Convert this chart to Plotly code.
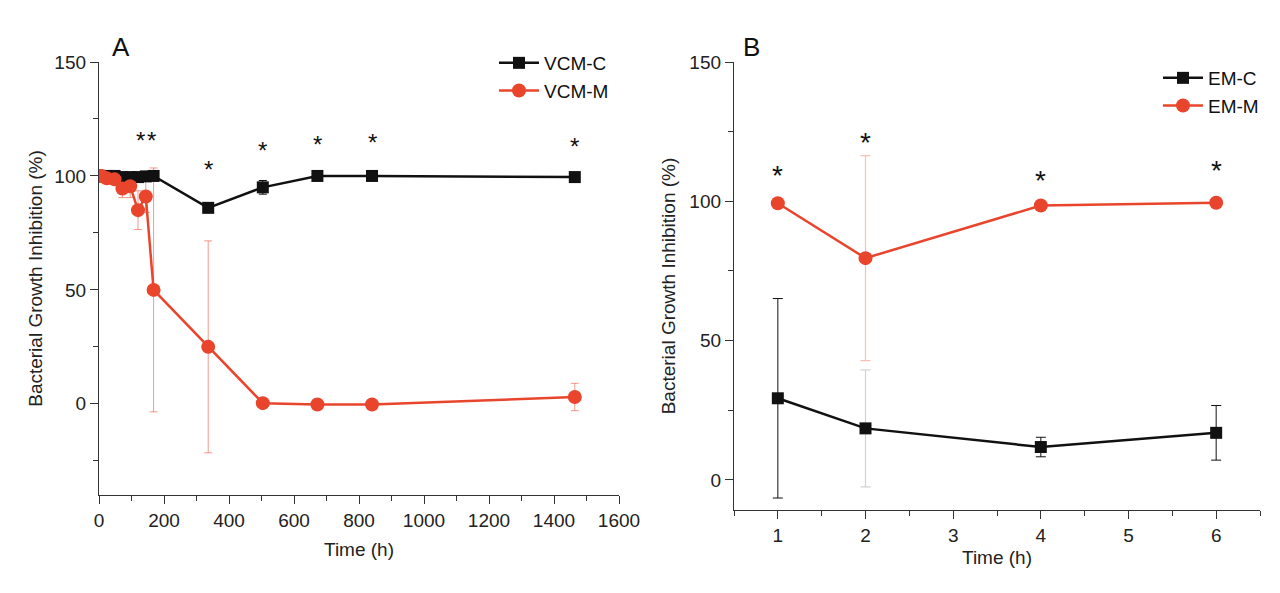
import plotly.graph_objects as go

# ---------------- Panel A data ----------------
a_time = [0, 8, 24, 48, 72, 96, 120, 144, 168, 336, 504, 672, 840, 1464]
vcm_c = [100, 100, 100, 100, 99.5, 99.5, 99.5, 99.8, 100, 86, 95, 100, 100, 99.5]
vcm_c_err = [0.5, 0.5, 0.5, 0.5, 0.5, 0.5, 0.5, 0.5, 0.5, 2, 3, 1, 1, 1]
vcm_m = [100, 100, 99, 98.5, 94.5, 95.5, 85, 91, 50, 25, 0.3, -0.3, -0.3, 3]
vcm_m_err = [0.5, 1, 1, 1.5, 4, 5, 8.5, 7, 53.5, 46.5, 1, 0.5, 0.5, 6]
a_star_x = [129, 163, 336, 504, 672, 840, 1464]
a_star_y = [115.5, 115.5, 103, 111, 114, 114.5, 113]

# ---------------- Panel B data ----------------
b_time = [1, 2, 4, 6]
em_c = [29.3, 18.5, 11.8, 16.9]
em_c_err = [35.8, 21, 3.5, 9.8]
em_m = [99.3, 79.6, 98.5, 99.5]
em_m_err = [0.5, 36.8, 0.5, 0.5]
b_star_x = [1, 2, 4, 6]
b_star_y = [109.3, 121.2, 107.5, 111]

RED = "#E8452C"
BLACK = "#111111"
FONT = "Liberation Sans, Arial, sans-serif"

fig = go.Figure()

# ---- Panel A error bars ----
fig.add_trace(go.Scatter(x=a_time, y=vcm_m, mode="markers", marker=dict(opacity=0),
                         error_y=dict(type="data", array=vcm_m_err, color="rgba(232,69,44,0.55)",
                                      thickness=1, width=4),
                         showlegend=False, hoverinfo="skip", xaxis="x", yaxis="y"))
fig.add_trace(go.Scatter(x=a_time, y=vcm_c, mode="markers", marker=dict(opacity=0),
                         error_y=dict(type="data", array=vcm_c_err, color=BLACK, thickness=1, width=4),
                         showlegend=False, hoverinfo="skip", xaxis="x", yaxis="y"))
# ---- Panel A lines ----
fig.add_trace(go.Scatter(x=a_time, y=vcm_c, mode="lines+markers", name="VCM-C",
                         line=dict(color=BLACK, width=2.5),
                         marker=dict(symbol="square", size=12, color=BLACK),
                         xaxis="x", yaxis="y", legend="legend"))
fig.add_trace(go.Scatter(x=a_time, y=vcm_m, mode="lines+markers", name="VCM-M",
                         line=dict(color=RED, width=2.5),
                         marker=dict(symbol="circle", size=14, color=RED),
                         xaxis="x", yaxis="y", legend="legend"))

# ---- Panel B error bars ----
fig.add_trace(go.Scatter(x=[b_time[1]], y=[em_m[1]], mode="markers", marker=dict(opacity=0),
                         error_y=dict(type="data", array=[em_m_err[1]], color="rgba(232,69,44,0.35)",
                                      thickness=1.2, width=5),
                         showlegend=False, hoverinfo="skip", xaxis="x2", yaxis="y2"))
fig.add_trace(go.Scatter(x=[b_time[1]], y=[em_c[1]], mode="markers", marker=dict(opacity=0),
                         error_y=dict(type="data", array=[em_c_err[1]], color="rgba(0,0,0,0.18)",
                                      thickness=1.2, width=5),
                         showlegend=False, hoverinfo="skip", xaxis="x2", yaxis="y2"))
fig.add_trace(go.Scatter(x=[b_time[i] for i in (0, 2, 3)], y=[em_c[i] for i in (0, 2, 3)],
                         mode="markers", marker=dict(opacity=0),
                         error_y=dict(type="data", array=[em_c_err[i] for i in (0, 2, 3)], color=BLACK,
                                      thickness=1, width=5),
                         showlegend=False, hoverinfo="skip", xaxis="x2", yaxis="y2"))
# ---- Panel B lines ----
fig.add_trace(go.Scatter(x=b_time, y=em_c, mode="lines+markers", name="EM-C",
                         line=dict(color=BLACK, width=2.5),
                         marker=dict(symbol="square", size=12, color=BLACK),
                         xaxis="x2", yaxis="y2", legend="legend2"))
fig.add_trace(go.Scatter(x=b_time, y=em_m, mode="lines+markers", name="EM-M",
                         line=dict(color=RED, width=2.5),
                         marker=dict(symbol="circle", size=14, color=RED),
                         xaxis="x2", yaxis="y2", legend="legend2"))

annotations = []
for sx, sy in zip(a_star_x, a_star_y):
    annotations.append(dict(x=sx, y=sy, xref="x", yref="y", text="*", showarrow=False,
                            font=dict(size=24, color=BLACK, family=FONT)))
for sx, sy in zip(b_star_x, b_star_y):
    annotations.append(dict(x=sx, y=sy, xref="x2", yref="y2", text="*", showarrow=False,
                            font=dict(size=28, color=BLACK, family=FONT)))
annotations.append(dict(x=121 / 1280, y=1 - 47 / 593, xref="paper", yref="paper", text="A",
                        showarrow=False, xanchor="center", yanchor="middle",
                        font=dict(size=26, color=BLACK, family=FONT)))
annotations.append(dict(x=751 / 1280, y=1 - 47 / 593, xref="paper", yref="paper", text="B",
                        showarrow=False, xanchor="center", yanchor="middle",
                        font=dict(size=26, color=BLACK, family=FONT)))

axis_common = dict(showline=True, linecolor="#333333", linewidth=1.3, ticks="outside",
                   ticklen=8, tickwidth=1.3, tickcolor="#333333", showgrid=False, zeroline=False,
                   mirror=False, automargin=False, tickfont=dict(size=19, color="#222222", family=FONT),
                   title_font=dict(size=19, color="#222222", family=FONT))
minor_common = dict(ticks="outside", ticklen=5, tickwidth=1.3, tickcolor="#333333")

fig.update_layout(
    width=1280, height=593,
    margin=dict(l=0, r=0, t=0, b=0),
    paper_bgcolor="white", plot_bgcolor="white",
    font=dict(family=FONT, size=19, color="#222222"),
    xaxis=dict(axis_common, domain=[99 / 1280, 619 / 1280], range=[0, 1600], dtick=200, tick0=0,
               minor=dict(minor_common, dtick=100),
               title=dict(text="Time (h)", standoff=12), anchor="y"),
    yaxis=dict(axis_common, domain=[1 - 495 / 593, 1 - 62 / 593], range=[-40, 150],
               tickvals=[0, 50, 100, 150],
               minor=dict(minor_common, tick0=0, dtick=25),
               title=dict(text="Bacterial Growth Inhibition (%)", standoff=6), anchor="x"),
    xaxis2=dict(axis_common, domain=[734 / 1280, 1260 / 1280], range=[0.5, 6.5], tickvals=[1, 2, 3, 4, 5, 6],
                minor=dict(minor_common, tick0=0.5, dtick=0.5),
                title=dict(text="Time (h)", standoff=5), anchor="y2"),
    yaxis2=dict(axis_common, domain=[1 - 510 / 593, 1 - 62 / 593], range=[-10.8, 150],
                tickvals=[0, 50, 100, 150],
                minor=dict(minor_common, tick0=0, dtick=25),
                title=dict(text="Bacterial Growth Inhibition (%)", standoff=8), anchor="x2"),
    legend=dict(x=494 / 1280, y=1 - 44 / 593, xanchor="left", yanchor="top", bgcolor="rgba(0,0,0,0)",
                font=dict(size=19, family=FONT, color="#111111"), tracegroupgap=0, itemwidth=40),
    legend2=dict(x=1158 / 1280, y=1 - 59 / 593, xanchor="left", yanchor="top", bgcolor="rgba(0,0,0,0)",
                 font=dict(size=19, family=FONT, color="#111111"), tracegroupgap=0, itemwidth=40),
    annotations=annotations,
    showlegend=True,
)

fig.write_html("out.html", config={"displayModeBar": False},
               post_script="document.body.style.margin='0';document.body.style.overflow='hidden';")
